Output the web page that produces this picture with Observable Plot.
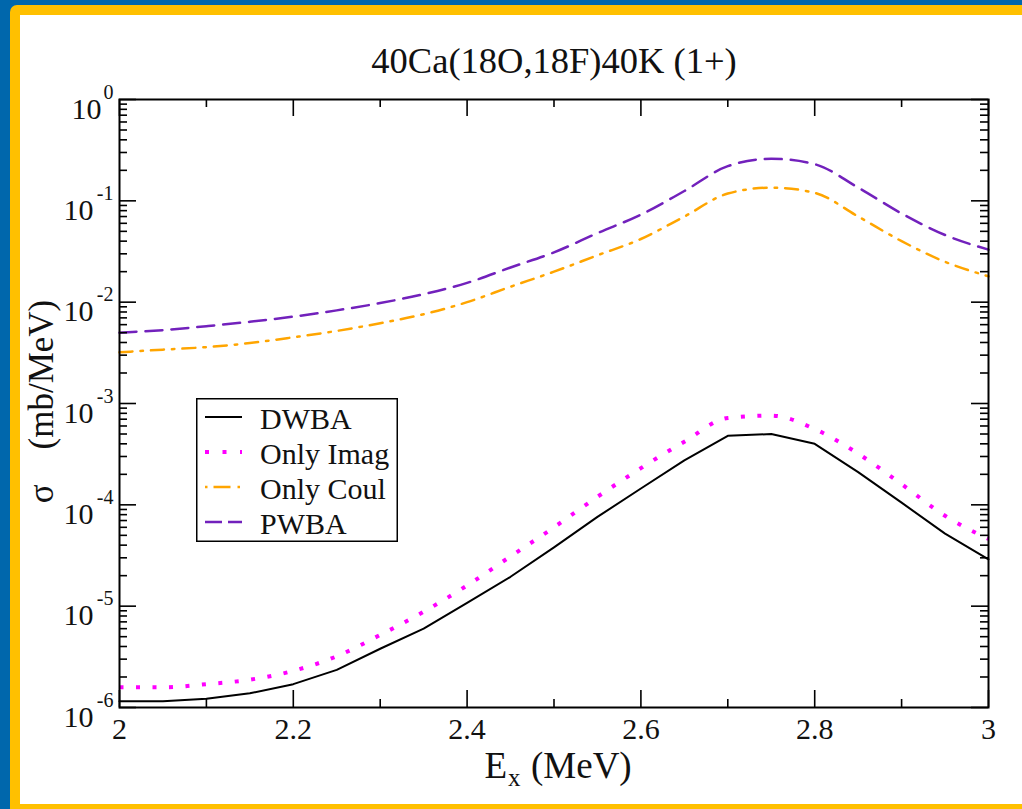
<!DOCTYPE html>
<html><head><meta charset="utf-8">
<script src="https://cdn.jsdelivr.net/npm/d3@7"></script>
<script src="https://cdn.jsdelivr.net/npm/@observablehq/plot@0.6"></script>
<style>
html,body{margin:0;padding:0;width:1022px;height:809px;overflow:hidden;background:#0067ac;}
#yellow{position:absolute;left:10px;top:5px;width:1040px;height:830px;background:#ffc000;border-radius:7px;}
#white{position:absolute;left:20px;top:15px;width:1030px;height:789px;background:#fff;}
#chart{position:absolute;left:0;top:0;}
#legend{position:absolute;left:196px;top:398px;}
svg text{font-family:"Liberation Serif","Times New Roman",serif;}
</style></head>
<body>
<div id="yellow"></div><div id="white"></div>
<div id="chart"></div>
<div id="legend"></div>
<script>
// ---- data ----
const E = [2.00,2.05,2.10,2.15,2.20,2.25,2.30,2.35,2.40,2.45,2.50,2.55,2.60,2.65,2.70,2.75,2.80,2.85,2.90,2.95,3.00];
const dwba     = [1.15e-6,1.15e-6,1.22e-6,1.38e-6,1.7e-6,2.35e-6,3.8e-6,6.0e-6,1.08e-5,1.95e-5,3.8e-5,7.6e-5,1.45e-4,2.75e-4,4.8e-4,5.0e-4,4.0e-4,2.1e-4,1.05e-4,5.2e-5,2.9e-5];
const onlyImag = [1.58e-6,1.58e-6,1.7e-6,1.88e-6,2.3e-6,3.2e-6,5.2e-6,8.8e-6,1.6e-5,3.1e-5,6.0e-5,1.2e-4,2.3e-4,4.2e-4,7.2e-4,7.6e-4,5.6e-4,3.2e-4,1.6e-4,7.8e-5,4.6e-5];
const onlyCoul = [3.2e-3,3.4e-3,3.6e-3,3.95e-3,4.5e-3,5.2e-3,6.2e-3,7.6e-3,1.0e-2,1.42e-2,2.0e-2,2.9e-2,4.2e-2,7.0e-2,1.18e-1,1.35e-1,1.2e-1,7.0e-2,4.0e-2,2.5e-2,1.8e-2];
const pwba     = [5.0e-3,5.3e-3,5.8e-3,6.4e-3,7.2e-3,8.3e-3,9.8e-3,1.2e-2,1.55e-2,2.2e-2,3.1e-2,4.8e-2,7.3e-2,1.25e-1,2.2e-1,2.6e-1,2.3e-1,1.35e-1,7.5e-2,4.6e-2,3.3e-2];

const seriesNames  = ["DWBA","Only Imag","Only Coul","PWBA"];
const seriesValues = [dwba, onlyImag, onlyCoul, pwba];
const seriesColors = ["#000000","#ff00ff","#ffa500","#7221bc"];

const xMajorTicks = [2, 2.2, 2.4, 2.6, 2.8, 3];
const xTickLabels = ["2","2.2","2.4","2.6","2.8","3"];
const xMinorTicks = [2.1, 2.3, 2.5, 2.7, 2.9];
const yExponents  = [-6,-5,-4,-3,-2,-1,0];
const yExpLabels  = ["-6","-5","-4","-3","-2","-1","0"];
const yMinorMult  = [2,3,4,5,6,7,8,9];

const titleText = "40Ca(18O,18F)40K (1+)";
const yLabelText = "σ\u00a0\u00a0\u00a0\u00a0(mb/MeV)";

// ---- styles ----
const styles = [
  {strokeWidth: 2},
  {strokeWidth: 4, strokeDasharray: "4 12.5", strokeLinecap: "butt", curve: "monotone-x"},
  {strokeWidth: 2.5, strokeDasharray: "13 8 2.5 8", curve: "monotone-x"},
  {strokeWidth: 2.5, strokeDasharray: "17 9", curve: "monotone-x"}
];

const W = 1022, H = 809, mL = 119, mR = 34, mT = 99, mB = 102;
const fw = W - mL - mR, fh = H - mT - mB;

const rows = seriesNames.map((name, k) => E.map((e, i) => ({E: e, v: seriesValues[k][i], name})));
const yMajor = yExponents.map(e => Math.pow(10, e));
const yMinor = yExponents.slice(0, -1).flatMap(e => yMinorMult.map(m => m * Math.pow(10, e)));

const FONT = 30;
const marks = [];
rows.forEach((r, k) => marks.push(Plot.line(r, {x: "E", y: "v", stroke: seriesColors[k], ...styles[k]})));
// ticks inward on all sides
const tk = {stroke: "#000", strokeWidth: 1.6};
marks.push(
  Plot.tickX(xMajorTicks, {x: d => d, insetTop: fh - 17, ...tk}),
  Plot.tickX(xMajorTicks, {x: d => d, insetBottom: fh - 17, ...tk}),
  Plot.tickX(xMinorTicks, {x: d => d, insetTop: fh - 8, ...tk}),
  Plot.tickX(xMinorTicks, {x: d => d, insetBottom: fh - 8, ...tk}),
  Plot.tickY(yMajor, {y: d => d, insetRight: fw - 17, ...tk}),
  Plot.tickY(yMajor, {y: d => d, insetLeft: fw - 17, ...tk}),
  Plot.tickY(yMinor, {y: d => d, insetRight: fw - 8, ...tk}),
  Plot.tickY(yMinor, {y: d => d, insetLeft: fw - 8, ...tk}),
  Plot.frame({stroke: "#000", strokeWidth: 2})
);
// x tick labels
marks.push(Plot.text(xMajorTicks, {x: d => d, text: (d, i) => xTickLabels[i], frameAnchor: "bottom",
  textAnchor: "middle", lineAnchor: "bottom", dy: 31, fontSize: FONT, fill: "#111"}));
// y tick labels: "10" with raised exponent
const negIdx = yExponents.map((e, i) => i).filter(i => yExponents[i] < 0);
const zeroIdx = yExponents.map((e, i) => i).filter(i => yExponents[i] >= 0);
marks.push(
  Plot.text(yExponents, {y: e => Math.pow(10, e), text: (e, i) => yExpLabels[i], frameAnchor: "left",
    textAnchor: "end", lineAnchor: "bottom", dx: -6, dy: -1, fontSize: 20, fill: "#111"}),
  Plot.text(negIdx, {y: i => yMajor[i], text: () => "10", frameAnchor: "left",
    textAnchor: "end", lineAnchor: "bottom", dx: -26, dy: 19, fontSize: FONT, fill: "#111"}),
  Plot.text(zeroIdx, {y: i => yMajor[i], text: () => "10", frameAnchor: "left",
    textAnchor: "end", lineAnchor: "bottom", dx: -18, dy: 19, fontSize: FONT, fill: "#111"})
);
// axis labels and title
marks.push(
  Plot.text([yLabelText], {text: d => d, frameAnchor: "left", textAnchor: "middle", rotate: -90, lineAnchor: "bottom",
    dx: -67, dy: -2, fontSize: 35, fill: "#111"}),
  Plot.text(["E"], {text: d => d, frameAnchor: "bottom", textAnchor: "end", lineAnchor: "bottom",
    dx: -47, dy: 70, fontSize: 37, fill: "#111"}),
  Plot.text(["x"], {text: d => d, frameAnchor: "bottom", textAnchor: "start", lineAnchor: "bottom",
    dx: -46, dy: 78, fontSize: 25, fill: "#111"}),
  Plot.text(["(MeV)"], {text: d => d, frameAnchor: "bottom", textAnchor: "start", lineAnchor: "bottom",
    dx: -23, dy: 70, fontSize: 37, fill: "#111"}),
  Plot.text([titleText], {text: d => d, frameAnchor: "top", textAnchor: "middle", lineAnchor: "bottom",
    dy: -27, fontSize: 36.5, fill: "#111"})
);

const chart = Plot.plot({
  width: W, height: H, marginLeft: mL, marginRight: mR, marginTop: mT, marginBottom: mB,
  x: {domain: [2, 3], axis: null},
  y: {type: "log", domain: [1e-6, 1], axis: null},
  style: {background: "transparent", fontFamily: "'Liberation Serif','Times New Roman',serif", overflow: "visible"},
  marks
});
document.getElementById("chart").appendChild(chart);

// ---- legend ----
const lw = 202, lh = 144;
const leg = d3.select("#legend").append("svg").attr("width", lw).attr("height", lh);
leg.append("rect").attr("x", 0.75).attr("y", 0.75).attr("width", lw - 1.5).attr("height", lh - 1.5)
  .attr("fill", "#fff").attr("stroke", "#000").attr("stroke-width", 1.5);
const legDash = [null, "4 13.5", "2.5 6 17 7 2.5", "17 6"];
seriesNames.forEach((name, k) => {
  const y = 19 + k * 35;
  leg.append("line").attr("x1", 9).attr("x2", 46).attr("y1", y).attr("y2", y)
    .attr("stroke", seriesColors[k]).attr("stroke-width", styles[k].strokeWidth)
    .attr("stroke-dasharray", legDash[k]);
  leg.append("text").attr("x", 64).attr("y", y + 12).attr("font-size", 30).attr("fill", "#111").text(name);
});
</script>
</body></html>
